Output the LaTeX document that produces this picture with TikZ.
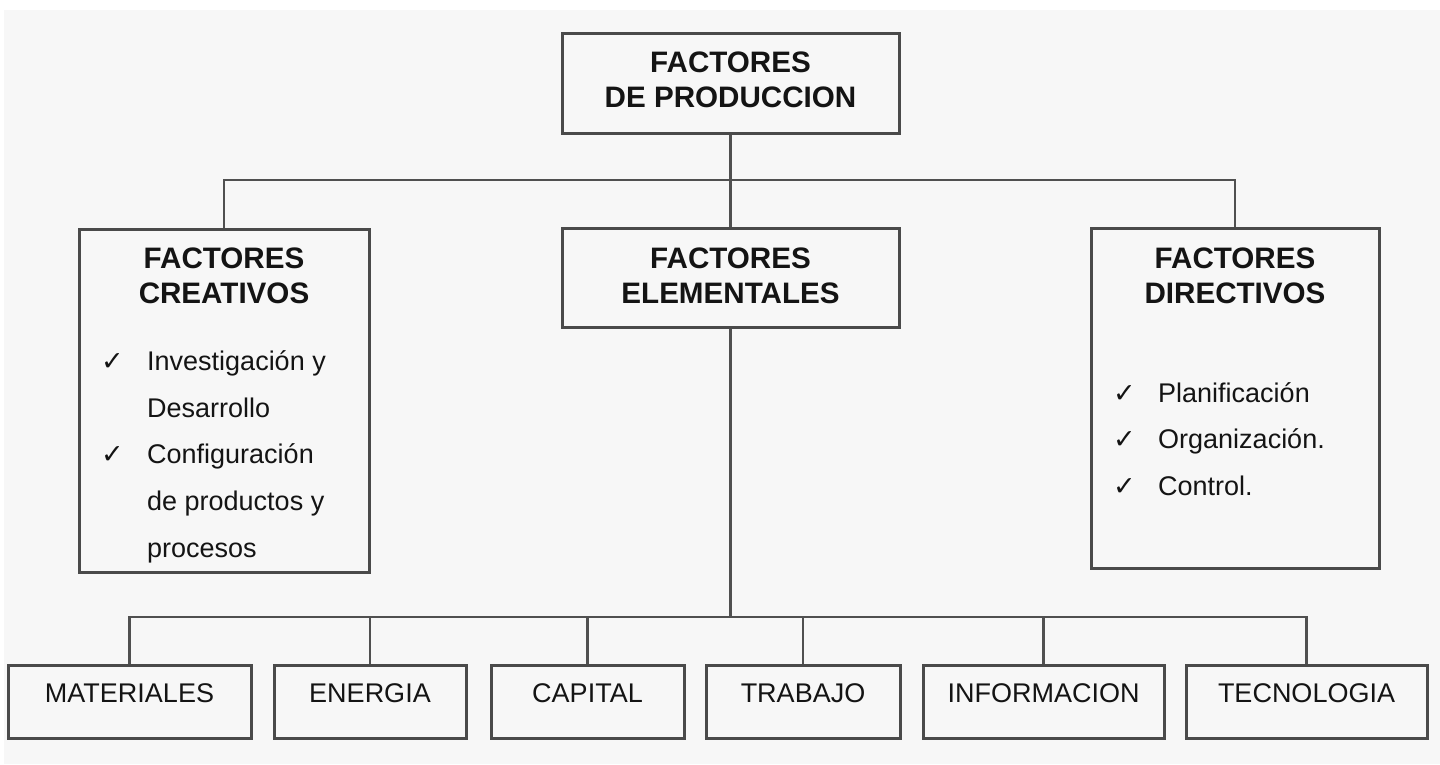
\documentclass[tikz,border=0pt]{standalone}
\usepackage{fontspec}
\setmainfont{Liberation Sans}
\newfontfamily\symfont{DejaVu Sans}
\definecolor{bgc}{HTML}{F7F7F7}
\definecolor{boxc}{HTML}{4A4A4A}
\definecolor{linec}{HTML}{505050}
\definecolor{txtc}{HTML}{141414}
\tikzset{
  box/.style={draw=boxc, line width=3pt, inner sep=0pt},
  conn/.style={draw=linec, line width=2.6pt},
  head/.style={font=\bfseries\fontsize{29.6}{35}\selectfont, text=txtc, align=center, inner sep=0pt, anchor=north},
  lbl/.style={font=\fontsize{27}{32}\selectfont, text=txtc, inner sep=0pt, anchor=base},
  item/.style={font=\fontsize{27}{32}\selectfont, text=txtc, inner sep=0pt, anchor=base west},
  chk/.style={font=\symfont\fontsize{27}{32}\selectfont, text=txtc, inner sep=0pt, anchor=base west}
}
\begin{document}
\begin{tikzpicture}[x=1pt, y=-1pt]
\useasboundingbox (0,0) rectangle (1440,764);
\fill[white] (0,0) rectangle (1440,764);
\fill[bgc] (4,10) rectangle (1440,764);

% main boxes
\node[box, minimum width=337pt, minimum height=100pt] (pp) at (730.5,83) {};
\node[box, minimum width=290pt, minimum height=343pt] (cre) at (224,400.5) {};
\node[box, minimum width=337pt, minimum height=99pt] (ele) at (730.5,277.5) {};
\node[box, minimum width=288pt, minimum height=340pt] (dir) at (1235,398) {};

% bottom boxes
\node[box, minimum width=243pt, minimum height=73pt] (mat) at (129.5,701.5) {};
\node[box, minimum width=192pt, minimum height=73pt] (ene) at (370,701.5) {};
\node[box, minimum width=193pt, minimum height=73pt] (cap) at (587.5,701.5) {};
\node[box, minimum width=194pt, minimum height=73pt] (tra) at (803,701.5) {};
\node[box, minimum width=241pt, minimum height=73pt] (inf) at (1043.5,701.5) {};
\node[box, minimum width=241pt, minimum height=73pt] (tec) at (1306.5,701.5) {};

% headings
\node[head] (ppT) at (730.5,52) {FACTORES\\DE PRODUCCION};
\node[head] (creT) at (224,248) {FACTORES\\CREATIVOS};
\node[head] (eleT) at (730.5,248) {FACTORES\\ELEMENTALES};
\node[head] (dirT) at (1235,248) {FACTORES\\DIRECTIVOS};

% creative items
\node[chk] (c1) at (101,370) {✓};
\node[item] (i1) at (147,370) {Investigación y};
\node[item] (i2) at (147,417) {Desarrollo};
\node[chk] (c2) at (101,463) {✓};
\node[item] (i3) at (147,463) {Configuración};
\node[item] (i4) at (147,510) {de productos y};
\node[item] (i5) at (147,557) {procesos};

% directive items
\node[chk] (d1c) at (1113,402) {✓};
\node[item] (d1) at (1158,402) {Planificación};
\node[chk] (d2c) at (1113,448) {✓};
\node[item] (d2) at (1158,448) {Organización.};
\node[chk] (d3c) at (1113,495) {✓};
\node[item] (d3) at (1158,495) {Control.};

% bottom labels
\node[lbl] (matT) at (129.5,702) {MATERIALES};
\node[lbl] (eneT) at (370,702) {ENERGIA};
\node[lbl] (capT) at (587.5,702) {CAPITAL};
\node[lbl] (traT) at (803,702) {TRABAJO};
\node[lbl] (infT) at (1043.5,702) {INFORMACION};
\node[lbl] (tecT) at (1306.5,702) {TECNOLOGIA};

% connectors
\coordinate (j1) at (730.5,180);
\coordinate (j2) at (730.5,617);
\draw[conn] (pp.south) -- (ele.north);
\draw[conn] (cre.north) |- (j1) -| (dir.north);
\draw[conn] (ele.south) -- (j2);
\draw[conn] (mat.north) |- (j2) -| (tec.north);
\draw[conn] (ene.north) -- (ene.north |- j2);
\draw[conn] (cap.north) -- (cap.north |- j2);
\draw[conn] (tra.north) -- (tra.north |- j2);
\draw[conn] (inf.north) -- (inf.north |- j2);
\end{tikzpicture}
\end{document}
